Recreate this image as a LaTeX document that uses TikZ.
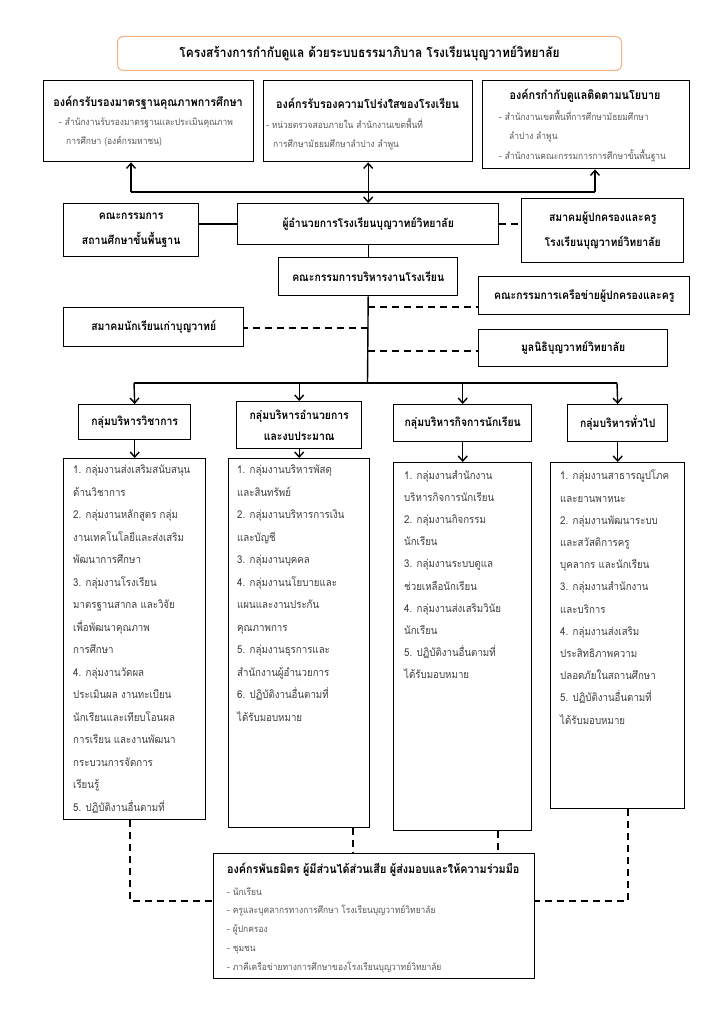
\documentclass[tikz,border=0pt]{standalone}
\usepackage{fontspec}
\setmainfont[Script=Thai,FakeStretch=0.9]{Loma}
\usetikzlibrary{arrows.meta}
\definecolor{tgray}{HTML}{404040}
\definecolor{sgray}{HTML}{595959}
\definecolor{ttlorange}{HTML}{F4B183}
\begin{document}
\begin{tikzpicture}[x=1pt,y=-1pt,
  bx/.style={draw=black, line width=1.4pt, inner sep=0pt, anchor=north west, align=center,
    font=\bfseries\fontsize{11.6}{25}\selectfont},
  ttl/.style={inner sep=0pt, font=\bfseries\fontsize{12}{14}\selectfont},
  sub/.style={inner sep=0pt, anchor=north west, align=left, text=sgray, font=\fontsize{9.4}{19}\selectfont},
  lst/.style={inner sep=0pt, anchor=north west, align=left, text=tgray, font=\fontsize{10.8}{22.5}\selectfont},
  lstb/.style={lst, font=\fontsize{10.8}{22.2}\selectfont},
  ln/.style={draw=black, line width=1.4pt},
  dsh/.style={draw=black, line width=1.4pt, dash pattern=on 7pt off 5pt},
  arr/.style={-{Straight Barb[length=5pt,width=9pt,line width=1.4pt]}},
  arrb/.style={{Straight Barb[length=5pt,width=9pt,line width=1.4pt]}-{Straight Barb[length=5pt,width=9pt,line width=1.4pt]}}
]
\useasboundingbox (0,0) rectangle (724,1024);
\fill[white] (0,0) rectangle (724,1024);

% title
\node[draw=ttlorange, line width=1pt, rounded corners=6pt, inner sep=0pt, anchor=north west,
  minimum width=504pt, minimum height=34pt, font=\bfseries\fontsize{13.3}{16}\selectfont] (title) at (117,36)
  {โครงสร้างการกำกับดูแล ด้วยระบบธรรมาภิบาล โรงเรียนบุญวาทย์วิทยาลัย};

% top boxes
\node[bx, minimum width=210pt, minimum height=81pt] (A) at (43,80) {};
\node[ttl] (At) at (148,103) {องค์กรรับรองมาตรฐานคุณภาพการศึกษา};
\node[sub] (As) at (59,118) {- สำนักงานรับรองมาตรฐานและประเมินคุณภาพ\\\hspace*{7pt}การศึกษา (องค์กรมหาชน)};

\node[bx, minimum width=209pt, minimum height=81pt] (B) at (263,80) {};
\node[ttl] (Bt) at (367.5,103) {องค์กรรับรองความโปร่งใสของโรงเรียน};
\node[sub] (Bs) at (266,118) {- หน่วยตรวจสอบภายใน สำนักงานเขตพื้นที่\\\hspace*{7pt}การศึกษามัธยมศึกษาลำปาง ลำพูน};

\node[bx, minimum width=207pt, minimum height=88pt] (C) at (482,80) {};
\node[ttl] (Ct) at (585,96) {องค์กรกำกับดูแลติดตามนโยบาย};
\node[sub, font=\fontsize{9.4}{19.5}\selectfont] (Cs) at (499,110) {- สำนักงานเขตพื้นที่การศึกษามัธยมศึกษา\\\hspace*{10pt}ลำปาง ลำพูน\\- สำนักงานคณะกรรมการการศึกษาขั้นพื้นฐาน};

% middle
\node[bx, minimum width=261pt, minimum height=41pt] (dir) at (237,203) {ผู้อำนวยการโรงเรียนบุญวาทย์วิทยาลัย};
\node[bx, minimum width=135pt, minimum height=53pt] (K) at (63,203) {คณะกรรมการ\\สถานศึกษาขั้นพื้นฐาน};
\node[bx, minimum width=162pt, minimum height=64pt] (S) at (521,198) {สมาคมผู้ปกครองและครู\\โรงเรียนบุญวาทย์วิทยาลัย};
\node[bx, minimum width=211pt, minimum height=38pt] (net) at (478,276) {คณะกรรมการเครือข่ายผู้ปกครองและครู};
\node[bx, minimum width=179pt, minimum height=38pt] (comm) at (278,257) {คณะกรรมการบริหารงานโรงเรียน};
\node[bx, minimum width=180pt, minimum height=39pt] (alum) at (63,307) {สมาคมนักเรียนเก่าบุญวาทย์};
\node[bx, minimum width=189pt, minimum height=37pt] (found) at (478,329) {มูลนิธิบุญวาทย์วิทยาลัย};

% groups
\node[bx, minimum width=112pt, minimum height=35pt] (G1) at (78,404) {กลุ่มบริหารวิชาการ};
\node[bx, minimum width=125pt, minimum height=47pt, font=\bfseries\fontsize{11.6}{21.5}\selectfont] (G2) at (236,401) {กลุ่มบริหารอำนวยการ\\และงบประมาณ};
\node[bx, minimum width=138pt, minimum height=37pt] (G3) at (393,404) {กลุ่มบริหารกิจการนักเรียน};
\node[bx, minimum width=100pt, minimum height=37pt] (G4) at (567,404) {กลุ่มบริหารทั่วไป};

% lists
\node[bx, minimum width=142pt, minimum height=361pt] (L1) at (63,458) {};
\node[lst] (L1t) at (73,465) {1. กลุ่มงานส่งเสริมสนับสนุน\\ด้านวิชาการ\\2. กลุ่มงานหลักสูตร กลุ่ม\\งานเทคโนโลยีและส่งเสริม\\พัฒนาการศึกษา\\3. กลุ่มงานโรงเรียน\\มาตรฐานสากล และวิจัย\\เพื่อพัฒนาคุณภาพ\\การศึกษา\\4. กลุ่มงานวัดผล\\ประเมินผล งานทะเบียน\\นักเรียนและเทียบโอนผล\\การเรียน และงานพัฒนา\\กระบวนการจัดการ\\เรียนรู้\\5. ปฏิบัติงานอื่นตามที่};

\node[bx, minimum width=141pt, minimum height=369pt] (L2) at (228,458) {};
\node[lst] (L2t) at (237,465) {1. กลุ่มงานบริหารพัสดุ\\และสินทรัพย์\\2. กลุ่มงานบริหารการเงิน\\และบัญชี\\3. กลุ่มงานบุคคล\\4. กลุ่มงานนโยบายและ\\แผนและงานประกัน\\คุณภาพการ\\5. กลุ่มงานธุรการและ\\สำนักงานผู้อำนวยการ\\6. ปฏิบัติงานอื่นตามที่\\ได้รับมอบหมาย};

\node[bx, minimum width=138pt, minimum height=368pt] (L3) at (393,462) {};
\node[lstb] (L3t) at (404,470) {1. กลุ่มงานสำนักงาน\\บริหารกิจการนักเรียน\\2. กลุ่มงานกิจกรรม\\นักเรียน\\3. กลุ่มงานระบบดูแล\\ช่วยเหลือนักเรียน\\4. กลุ่มงานส่งเสริมวินัย\\นักเรียน\\5. ปฏิบัติงานอื่นตามที่\\ได้รับมอบหมาย};

\node[bx, minimum width=134pt, minimum height=346pt] (L4) at (550,462) {};
\node[lstb] (L4t) at (560,470) {1. กลุ่มงานสาธารณูปโภค\\และยานพาหนะ\\2. กลุ่มงานพัฒนาระบบ\\และสวัสดิการครู\\บุคลากร และนักเรียน\\3. กลุ่มงานสำนักงาน\\และบริการ\\4. กลุ่มงานส่งเสริม\\ประสิทธิภาพความ\\ปลอดภัยในสถานศึกษา\\5. ปฏิบัติงานอื่นตามที่\\ได้รับมอบหมาย};

% stakeholders
\node[bx, minimum width=321pt, minimum height=125pt] (SH) at (213,853) {};
\node[ttl, anchor=west] (SHt) at (227,870) {องค์กรพันธมิตร ผู้มีส่วนได้ส่วนเสีย ผู้ส่งมอบและให้ความร่วมมือ};
\node[sub, font=\fontsize{9.4}{18.8}\selectfont] (SHs) at (227,887) {- นักเรียน\\- ครูและบุคลากรทางการศึกษา โรงเรียนบุญวาทย์วิทยาลัย\\- ผู้ปกครอง\\- ชุมชน\\- ภาคีเครือข่ายทางการศึกษาของโรงเรียนบุญวาทย์วิทยาลัย};

% connectors top
\coordinate (tl) at (131,192);
\coordinate (tr) at (595,192);
\draw[ln] (tl) -- (tr);
\draw[ln, arr] (tl) -- (tl |- A.south);
\draw[ln, arr] (tr) -- (tr |- C.south);
\draw[ln, arrb] (dir.north) -- (dir.north |- B.south);
\draw[ln] (K.east |- dir.west) -- (dir.west);
\draw[dsh] (dir.east) -- (dir.east -| S.west);
\draw[ln] (dir.south) -- (comm.north);

% bus
\coordinate (bus) at (367.5,383);
\draw[ln] (comm.south) -- (bus);
\coordinate (j1) at (367.5,307);
\coordinate (j2) at (367.5,328);
\coordinate (j3) at (367.5,351);
\draw[dsh] (j1) -- (j1 -| net.west);
\draw[dsh] (j2) -- (j2 -| alum.east);
\draw[dsh] (j3) -- (j3 -| found.west);

\coordinate (b1) at (134,383);
\coordinate (b4) at (617,383);
\draw[ln] (b1) -- (b4);
\draw[ln, arr] (b1) -- (G1.north);
\draw[ln, arr] (b1 -| G2.north) -- (G2.north);
\draw[ln, arr] (b1 -| G3.north) -- (G3.north);
\draw[ln, arr] (b4) -- (G4.north);

\draw[ln, arr] (G1.south) -- (L1.north);
\draw[ln, arr] (G2.south) -- (L2.north);
\draw[ln, arr] (G3.south) -- (L3.north);
\draw[ln, arr] (G4.south) -- (L4.north);

% bottom dashed
\coordinate (d1) at (130,901);
\coordinate (d2) at (353,840);
\coordinate (d3) at (498,840);
\coordinate (d4) at (628,901);
\draw[dsh] (d1 |- L1.south) -- (d1) -- (d1 -| SH.west);
\draw[dsh] (d2 |- L2.south) -- (d2 |- SH.north);
\draw[dsh] (d3 |- L3.south) -- (d3 |- SH.north);
\draw[dsh] (d4 |- L4.south) -- (d4) -- (d4 -| SH.east);
\end{tikzpicture}
\end{document}
